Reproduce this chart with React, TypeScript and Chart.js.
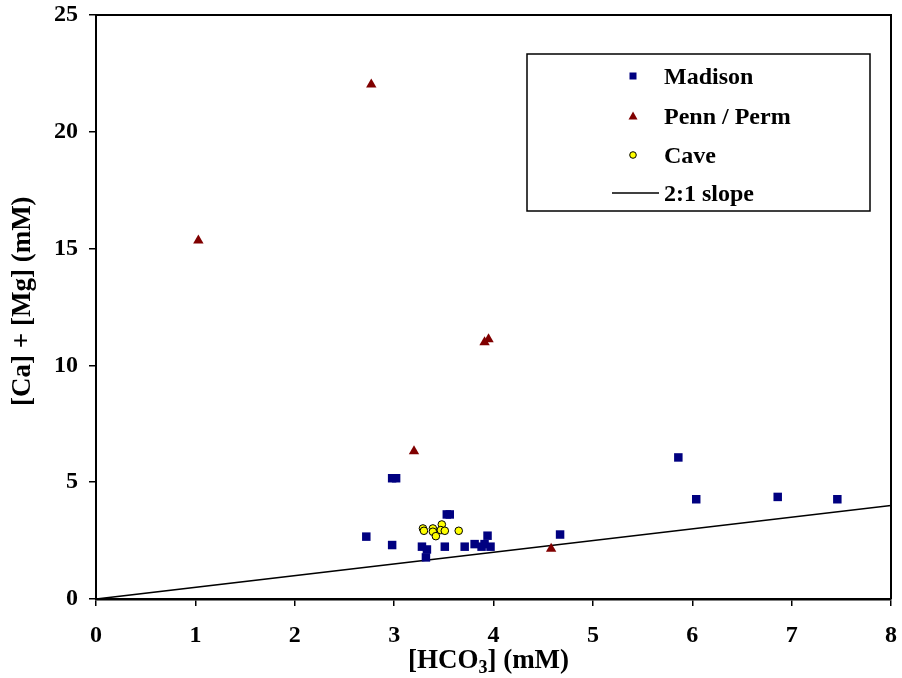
import React, { useEffect, useRef } from "react";
import { Chart, registerables } from "chart.js";

Chart.register(...registerables);

const FONT = '"Liberation Serif", "Times New Roman", serif';

// Madison (blue squares)
const madisonX = [2.98, 3.02, 3.53, 3.56, 2.72, 2.98, 3.28, 3.33, 3.32, 3.51, 3.71, 3.81, 3.88, 3.94, 3.91, 3.97, 4.67, 5.86, 6.04, 6.86, 7.46];
const madisonY = [5.17, 5.17, 3.62, 3.62, 2.67, 2.31, 2.24, 2.12, 1.78, 2.24, 2.24, 2.35, 2.24, 2.71, 2.35, 2.24, 2.76, 6.06, 4.27, 4.37, 4.27];

// Penn / Perm (red triangles)
const pennX = [1.03, 2.77, 3.91, 3.95, 3.2, 4.58];
const pennY = [15.35, 22.03, 10.99, 11.12, 6.33, 2.15];

// Cave (yellow circles)
const caveX = [3.29, 3.3, 3.39, 3.39, 3.42, 3.48, 3.47, 3.51, 3.65];
const caveY = [3.02, 2.92, 3.02, 2.88, 2.69, 3.19, 2.95, 2.92, 2.92];

// 2:1 slope line
const slopeX = [0, 8];
const slopeY = [0, 4];

const seriesLabels = ["Madison", "Penn / Perm", "Cave", "2:1 slope"];
const xTitleParts = ["[HCO", "3", "] (mM)"];
const yTitle = "[Ca] + [Mg] (mM)";

const MADISON_COLOR = "#000080";
const PENN_COLOR = "#800000";
const CAVE_COLOR = "#FFFF00";

const toPoints = (xs: number[], ys: number[]) => xs.map((x, i) => ({ x, y: ys[i] }));

const decorPlugin = {
  id: "decor",
  afterDraw(chart: any) {
    const { ctx, chartArea: a } = chart;
    ctx.save();
    // top & right frame
    ctx.strokeStyle = "#000";
    ctx.lineWidth = 2;
    ctx.beginPath();
    ctx.moveTo(a.left, a.top);
    ctx.lineTo(a.right, a.top);
    ctx.lineTo(a.right, a.bottom);
    ctx.stroke();

    ctx.fillStyle = "#000";
    // Y title
    ctx.save();
    ctx.font = `bold 27px ${FONT}`;
    ctx.textAlign = "center";
    ctx.textBaseline = "alphabetic";
    ctx.translate(30, a.top + (a.bottom - a.top) * 0.49);
    ctx.rotate(-Math.PI / 2);
    ctx.fillText(yTitle, 0, 0);
    ctx.restore();

    // X title with subscript
    const big = `bold 27px ${FONT}`;
    const small = `bold 18px ${FONT}`;
    ctx.textAlign = "left";
    ctx.textBaseline = "alphabetic";
    ctx.font = big;
    const w0 = ctx.measureText(xTitleParts[0]).width;
    const w2 = ctx.measureText(xTitleParts[2]).width;
    ctx.font = small;
    const w1 = ctx.measureText(xTitleParts[1]).width;
    const total = w0 + w1 + w2;
    const cx = (a.left + a.right) / 2 - 5;
    const baseY = a.bottom + 69;
    let x = cx - total / 2;
    ctx.font = big;
    ctx.fillText(xTitleParts[0], x, baseY);
    x += w0;
    ctx.font = small;
    ctx.fillText(xTitleParts[1], x, baseY + 5);
    x += w1;
    ctx.font = big;
    ctx.fillText(xTitleParts[2], x, baseY);

    // Legend
    const bx = a.left + 431;
    const by = a.top + 39;
    const bw = 343;
    const bh = 157;
    ctx.fillStyle = "#fff";
    ctx.fillRect(bx, by, bw, bh);
    ctx.strokeStyle = "#000";
    ctx.lineWidth = 1.5;
    ctx.strokeRect(bx, by, bw, bh);

    const rows = [22, 62, 101, 139];
    const mx = bx + 106;
    const tx = bx + 137;
    ctx.font = `bold 24px ${FONT}`;
    ctx.textAlign = "left";
    ctx.textBaseline = "alphabetic";
    rows.forEach((r, i) => {
      const y = by + r;
      if (i === 0) {
        ctx.fillStyle = MADISON_COLOR;
        ctx.fillRect(mx - 3.5, y - 3.5, 7, 7);
      } else if (i === 1) {
        ctx.fillStyle = PENN_COLOR;
        ctx.beginPath();
        ctx.moveTo(mx, y - 4.5);
        ctx.lineTo(mx + 4.5, y + 3.5);
        ctx.lineTo(mx - 4.5, y + 3.5);
        ctx.closePath();
        ctx.fill();
      } else if (i === 2) {
        ctx.fillStyle = CAVE_COLOR;
        ctx.strokeStyle = "#000";
        ctx.lineWidth = 1;
        ctx.beginPath();
        ctx.arc(mx, y, 3.3, 0, Math.PI * 2);
        ctx.fill();
        ctx.stroke();
      } else {
        ctx.strokeStyle = "#000";
        ctx.lineWidth = 1.5;
        ctx.beginPath();
        ctx.moveTo(bx + 85, y);
        ctx.lineTo(bx + 132, y);
        ctx.stroke();
      }
      ctx.fillStyle = "#000";
      ctx.fillText(seriesLabels[i], tx, y + 8);
    });
    ctx.restore();
  },
};

export default function App() {
  const ref = useRef<HTMLCanvasElement>(null);
  useEffect(() => {
    if (!ref.current) return;
    const tickFont = { family: FONT, size: 24, weight: "bold" as const };
    const chart = new Chart(ref.current, {
      type: "scatter",
      data: {
        datasets: [
          {
            label: seriesLabels[0],
            data: toPoints(madisonX, madisonY),
            pointStyle: "rect",
            pointRadius: 6,
            backgroundColor: MADISON_COLOR,
            borderColor: MADISON_COLOR,
            borderWidth: 0,
            order: 1,
          },
          {
            label: seriesLabels[1],
            data: toPoints(pennX, pennY),
            pointStyle: "triangle",
            pointRadius: 6,
            backgroundColor: PENN_COLOR,
            borderColor: PENN_COLOR,
            borderWidth: 0,
            order: 1,
          },
          {
            label: seriesLabels[2],
            data: toPoints(caveX, caveY),
            pointStyle: "circle",
            pointRadius: 3.8,
            backgroundColor: CAVE_COLOR,
            borderColor: "#000",
            borderWidth: 1,
            order: 0,
          },
          {
            label: seriesLabels[3],
            data: toPoints(slopeX, slopeY),
            showLine: true,
            pointRadius: 0,
            borderColor: "#000",
            borderWidth: 1.6,
            order: 2,
          } as any,
        ],
      },
      options: {
        responsive: false,
        animation: false,
        events: [],
        layout: { padding: { top: 15, right: 11, left: 0, bottom: 0 } },
        plugins: { legend: { display: false }, tooltip: { enabled: false } },
        scales: {
          x: {
            type: "linear",
            min: 0,
            max: 8,
            ticks: { stepSize: 1, font: tickFont, color: "#000", padding: 15 },
            grid: { display: true, drawOnChartArea: false, drawTicks: true, tickLength: 7, color: "#000", lineWidth: 1.5 },
            border: { display: true, color: "#000", width: 2.5 },
            afterFit: (s: any) => {
              s.height = 79;
              s.paddingLeft = 0;
              s.paddingRight = 0;
            },
          },
          y: {
            type: "linear",
            min: 0,
            max: 25,
            ticks: { stepSize: 5, font: tickFont, color: "#000", padding: 11 },
            grid: { display: true, drawOnChartArea: false, drawTicks: true, tickLength: 7, color: "#000", lineWidth: 1.5 },
            border: { display: true, color: "#000", width: 2 },
            afterFit: (s: any) => {
              s.width = 96;
              s.paddingTop = 0;
              s.paddingBottom = 0;
            },
          },
        },
      },
      plugins: [decorPlugin],
    });
    return () => chart.destroy();
  }, []);
  return (
    <div style={{ position: "fixed", left: 0, top: 0, width: 902, height: 678, background: "#fff" }}>
      <canvas ref={ref} width={902} height={678} style={{ display: "block", width: 902, height: 678 }} />
    </div>
  );
}
